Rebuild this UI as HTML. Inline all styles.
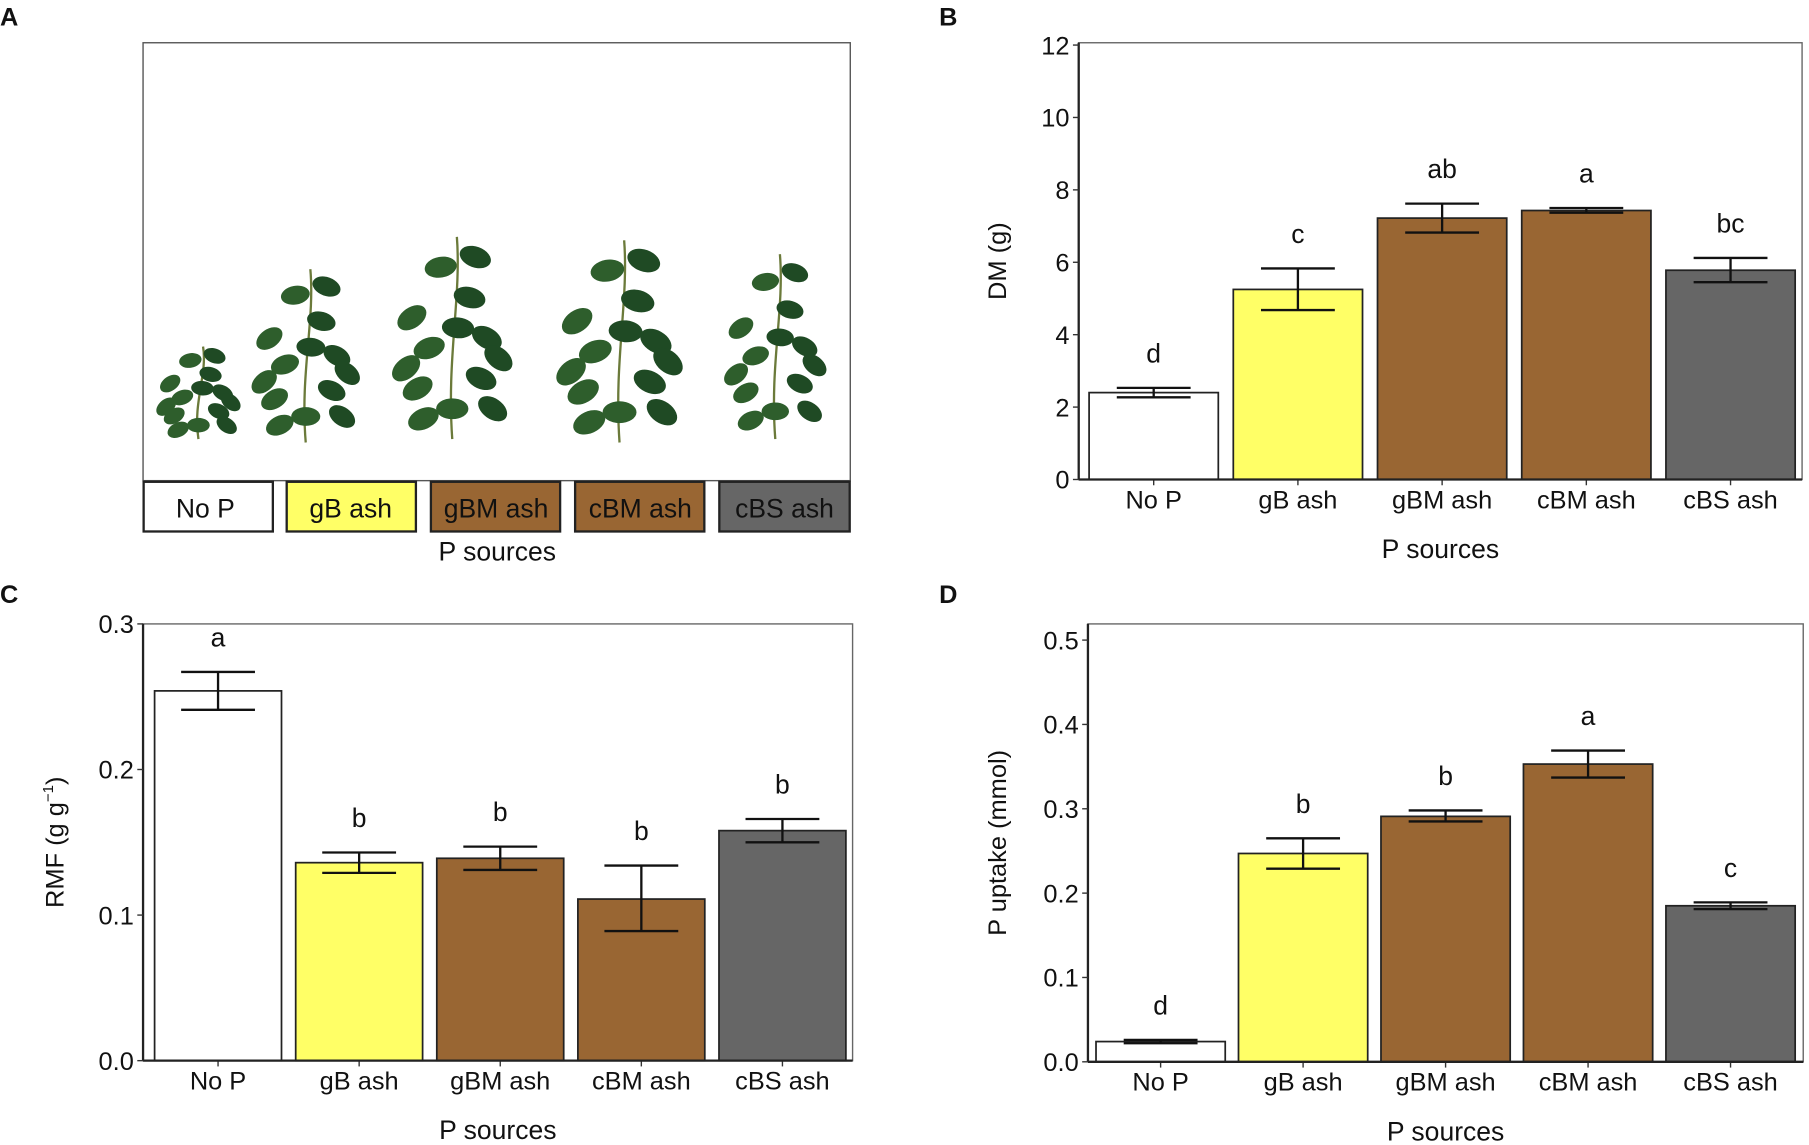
<!DOCTYPE html>
<html><head><meta charset="utf-8"><style>
html,body{margin:0;padding:0;background:#fff}
svg{display:block}
text{font-family:"Liberation Sans",Arial,sans-serif;fill:#111}
</style></head><body>
<svg id="fig" width="1809" height="1145" viewBox="0 0 1568 991" preserveAspectRatio="none" xmlns="http://www.w3.org/2000/svg">
<g id="panelA">
<text x="0" y="22" font-size="22" font-weight="bold">A</text>
<rect x="124" y="37" width="613" height="379" fill="#fff" stroke="#555" stroke-width="1.2"/>
<g id="plants"></g>
<rect x="124.5" y="417" width="112" height="43" fill="#fff" stroke="#222" stroke-width="2"/>
<text x="178" y="448" font-size="23" text-anchor="middle">No P</text>
<rect x="248.5" y="417" width="112" height="43" fill="#ffff66" stroke="#222" stroke-width="2"/>
<text x="304" y="448" font-size="23" text-anchor="middle">gB ash</text>
<rect x="373.5" y="417" width="112" height="43" fill="#996633" stroke="#222" stroke-width="2"/>
<text x="430" y="448" font-size="23" text-anchor="middle">gBM ash</text>
<rect x="498.5" y="417" width="112" height="43" fill="#996633" stroke="#222" stroke-width="2"/>
<text x="555" y="448" font-size="23" text-anchor="middle">cBM ash</text>
<rect x="623.5" y="417" width="113" height="43" fill="#666666" stroke="#222" stroke-width="2"/>
<text x="680" y="448" font-size="23" text-anchor="middle">cBS  ash</text>
<text x="431" y="485" font-size="23" text-anchor="middle">P sources</text>
</g>
<g id="panelB"></g>
<g id="panelC"></g>
<g id="panelD"></g>
</svg>
<script>
const NS="http://www.w3.org/2000/svg";
const categories=["No P","gB ash","gBM ash","cBM ash","cBS ash"];
const colors=["#ffffff","#ffff66","#996633","#996633","#666666"];

const dmValues=[2.4,5.25,7.22,7.43,5.78];
const dmLow=[2.27,4.68,6.82,7.37,5.45];
const dmHigh=[2.53,5.83,7.62,7.5,6.12];
const dmLetters=["d","c","ab","a","bc"];
const dmTicks=[0,2,4,6,8,10,12];

const rmfValues=[0.254,0.136,0.139,0.111,0.158];
const rmfLow=[0.241,0.129,0.131,0.089,0.150];
const rmfHigh=[0.267,0.143,0.147,0.134,0.166];
const rmfLetters=["a","b","b","b","b"];
const rmfTicks=[0,0.1,0.2,0.3];

const puValues=[0.024,0.247,0.291,0.353,0.185];
const puLow=[0.022,0.229,0.285,0.337,0.181];
const puHigh=[0.026,0.265,0.298,0.369,0.189];
const puLetters=["d","b","b","a","c"];
const puTicks=[0,0.1,0.2,0.3,0.4,0.5];

function mk(tag,attrs,parent){const e=document.createElementNS(NS,tag);for(const k in attrs)e.setAttribute(k,attrs[k]);parent.appendChild(e);return e;}

function chart(g,cfg){
  const {x0,x1,yTop,yBot,vmax,vals,lo,hi,letters,ticks,fmt,bw,first,step,ytitle,letterLabel,lx,ly}=cfg;
  const y=v=>yBot-(v/vmax)*(yBot-yTop);
  const xc=i=>first+i*step;
  const L=mk('text',{x:lx,y:ly,'font-size':22,'font-weight':'bold'},g);L.textContent=letterLabel;
  
  
  const fr=mk('rect',{x:x0,y:cfg.frameTop,width:x1-x0,height:yBot-cfg.frameTop,fill:'none',stroke:'#666','stroke-width':1.2},g);
  
  
  vals.forEach((v,i)=>{
    const r=mk('rect',{x:xc(i)-bw/2,y:y(v),width:bw,height:yBot-y(v),fill:colors[i],stroke:'#222','stroke-width':1.5},g);
    
    
    const eb=mk('path',{d:`M${xc(i)-32},${y(hi[i])}H${xc(i)+32}M${xc(i)-32},${y(lo[i])}H${xc(i)+32}M${xc(i)},${y(hi[i])}V${y(lo[i])}`,stroke:'#111','stroke-width':2,fill:'none'},g);
    
    
    const t=mk('text',{x:xc(i),y:y(hi[i])-22,'font-size':23,'text-anchor':'middle'},g);t.textContent=letters[i];
    
    
    mk('line',{x1:xc(i),x2:xc(i),y1:yBot,y2:yBot+5,stroke:'#333','stroke-width':1.2},g);
    const xl=mk('text',{x:xc(i),y:yBot+25,'font-size':22,'text-anchor':'middle'},g);xl.textContent=categories[i];
    
    
  });
  mk('line',{x1:x0,x2:x1,y1:yBot,y2:yBot,stroke:'#222','stroke-width':2},g);
  mk('line',{x1:x0,x2:x0,y1:cfg.frameTop,y2:yBot,stroke:'#222','stroke-width':2},g);
  ticks.forEach(v=>{
    mk('line',{x1:x0-5,x2:x0,y1:y(v),y2:y(v),stroke:'#333','stroke-width':1.2},g);
    const t=mk('text',{x:x0-8,y:y(v)+8,'font-size':22,'text-anchor':'end'},g);t.textContent=fmt(v);
    
    
  });
  const xt=mk('text',{x:(x0+x1)/2,y:yBot+68,'font-size':23,'text-anchor':'middle'},g);xt.textContent='P sources';
  
  
  const cy=(cfg.frameTop+yBot)/2;
  const yt=mk('text',{x:cfg.ytx,y:cy,'font-size':22,'text-anchor':'middle',transform:`rotate(-90 ${cfg.ytx} ${cy})`},g);
  yt.innerHTML=ytitle;
  
  
}
chart(document.getElementById('panelB'),{x0:935,x1:1562,yTop:39,yBot:415,frameTop:37,vmax:12,vals:dmValues,lo:dmLow,hi:dmHigh,letters:dmLetters,ticks:dmTicks,fmt:v=>String(v),bw:112,first:1000,step:125,ytitle:'DM (g)',ytx:872,letterLabel:'B',lx:814,ly:22});
chart(document.getElementById('panelC'),{x0:124,x1:739,yTop:540,yBot:918,frameTop:540,vmax:0.3,vals:rmfValues,lo:rmfLow,hi:rmfHigh,letters:rmfLetters,ticks:rmfTicks,fmt:v=>v.toFixed(1),bw:110,first:189,step:122.3,ytitle:'RMF (g  g<tspan dy="-9" font-size="13">−1</tspan><tspan dy="9">)</tspan>',ytx:55,letterLabel:'C',lx:0,ly:522});
chart(document.getElementById('panelD'),{x0:943,x1:1563,yTop:554,yBot:919,frameTop:540,vmax:0.5,vals:puValues,lo:puLow,hi:puHigh,letters:puLetters,ticks:puTicks,fmt:v=>v.toFixed(1),bw:112,first:1006,step:123.5,ytitle:'P uptake (mmol)',ytx:872,letterLabel:'D',lx:814,ly:522});

// simple plant drawings
const plantG=document.getElementById('plants');
const plants=[[172,380,80,0.7],[265,383,150,0.9],[392,380,175,1],[537,383,175,1.05],[672,380,160,0.85]];
plants.forEach(([cx,by,h,s])=>{
  mk('path',{d:`M${cx},${by}C${cx-5},${by-h*0.4} ${cx+8},${by-h*0.7} ${cx+4},${by-h}`,stroke:'#6b7a3a','stroke-width':2,fill:'none'},plantG);
  const leaves=[[-30,0.25],[25,0.3],[-20,0.45],[30,0.5],[-35,0.6],[15,0.7],[-10,0.85],[20,0.9],[0,0.15],[35,0.15],[-40,0.35],[5,0.55],[-25,0.1],[40,0.4]];
  leaves.forEach(([dx,f],k)=>{
    mk('ellipse',{cx:cx+dx*s,cy:by-h*f,rx:14*s,ry:9*s,fill:k%2?'#1f4a24':'#2e5e2c',transform:`rotate(${dx} ${cx+dx*s} ${by-h*f})`},plantG);
  });
});
</script>
</body></html>
